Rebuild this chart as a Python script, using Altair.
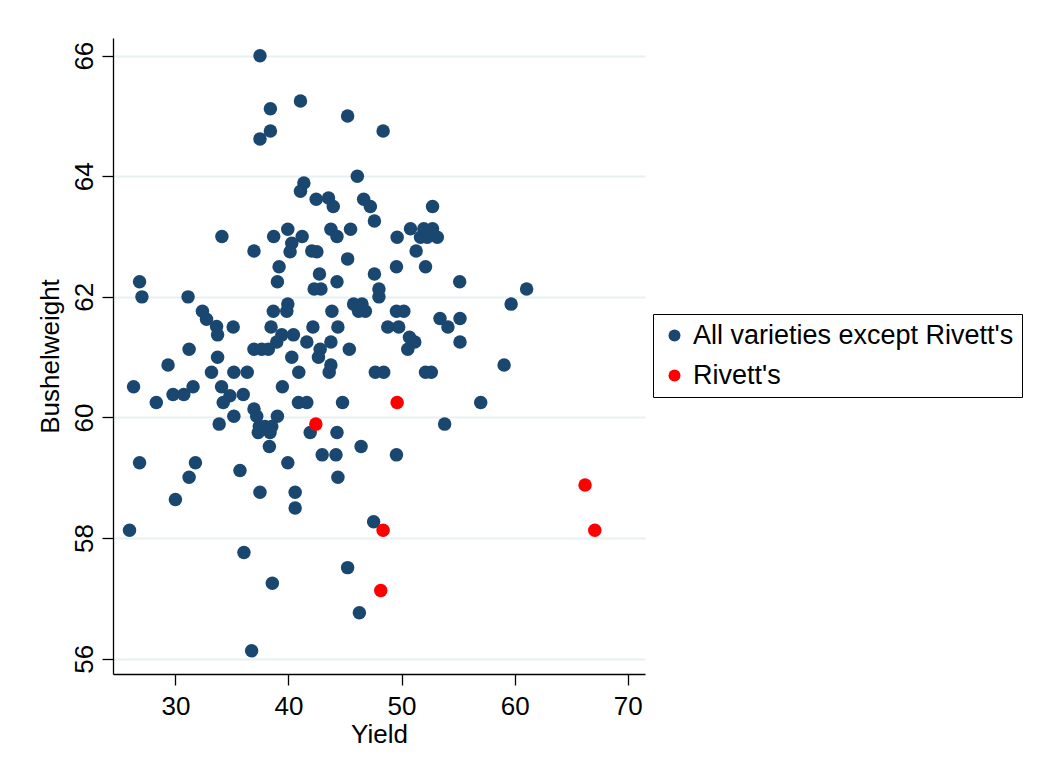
import altair as alt
import pandas as pd

# Yield (x) and Bushelweight (y) for all varieties except Rivett's
blue_x = [37.48, 41.06, 38.40, 45.23, 38.40, 37.48, 48.37, 46.09, 41.36, 41.06,
          42.45, 43.54, 43.96, 46.65, 47.24, 47.60, 34.11, 38.69, 39.94, 41.21,
          43.75, 44.29, 45.49, 40.29, 36.95, 42.06, 52.74, 50.79, 49.61, 51.97,
          52.74, 51.68, 52.27, 53.16, 51.29, 40.14, 42.51, 45.23, 39.17, 42.74,
          47.60, 26.83, 39.02, 44.29, 42.27, 42.87, 48.00, 27.04, 31.12, 48.00,
          45.76, 46.50, 46.20, 46.80, 32.39, 38.66, 39.94, 39.85, 43.84, 32.75,
          33.64, 33.73, 35.11, 38.46, 42.16, 44.37, 39.41, 40.44, 38.96, 41.62,
          43.75, 31.21, 36.95, 37.63, 38.22, 42.80, 45.38, 42.65, 33.73, 40.29,
          29.35, 43.75, 33.19, 35.17, 36.35, 40.91, 43.60, 47.68, 26.30, 31.56,
          34.08, 39.46, 29.79, 30.74, 34.82, 36.00, 28.31, 34.23, 40.88, 41.62,
          44.78, 36.95, 35.17, 37.19, 39.02, 33.87, 37.42, 37.92, 38.52, 37.33,
          38.37, 38.31, 41.92, 44.29, 46.42, 42.98, 44.20, 26.83, 31.77, 39.94,
          49.55, 52.12, 55.14, 61.06, 59.69, 49.55, 50.20, 53.40, 55.17, 48.78,
          49.75, 54.10, 50.70, 51.17, 50.55, 55.17, 59.07, 48.42, 52.12, 52.63,
          57.00, 53.81, 49.55, 35.71, 31.21, 44.37, 37.48, 40.59, 30.00, 40.59,
          47.53, 25.94, 36.06, 45.23, 38.57, 46.27, 36.74]
blue_y = [66.00, 65.25, 65.12, 65.00, 64.75, 64.62, 64.75, 64.00, 63.89, 63.75,
          63.62, 63.64, 63.50, 63.62, 63.50, 63.26, 63.00, 63.00, 63.12, 63.00,
          63.12, 63.00, 63.12, 62.89, 62.76, 62.76, 63.50, 63.13, 62.99, 63.13,
          63.13, 62.99, 62.99, 62.99, 62.76, 62.75, 62.75, 62.63, 62.50, 62.38,
          62.38, 62.25, 62.25, 62.25, 62.13, 62.13, 62.13, 62.00, 62.00, 62.00,
          61.88, 61.88, 61.76, 61.76, 61.76, 61.76, 61.88, 61.76, 61.76, 61.63,
          61.51, 61.37, 61.50, 61.50, 61.50, 61.50, 61.37, 61.37, 61.25, 61.25,
          61.25, 61.13, 61.13, 61.13, 61.13, 61.13, 61.13, 61.00, 61.00, 61.00,
          60.87, 60.87, 60.75, 60.75, 60.75, 60.75, 60.75, 60.75, 60.51, 60.51,
          60.51, 60.51, 60.38, 60.38, 60.36, 60.38, 60.25, 60.25, 60.25, 60.25,
          60.25, 60.14, 60.02, 60.02, 60.02, 59.89, 59.85, 59.85, 59.85, 59.75,
          59.75, 59.52, 59.75, 59.75, 59.52, 59.38, 59.38, 59.25, 59.25, 59.25,
          62.50, 62.50, 62.25, 62.13, 61.88, 61.76, 61.76, 61.64, 61.64, 61.50,
          61.50, 61.50, 61.33, 61.25, 61.13, 61.25, 60.87, 60.75, 60.75, 60.75,
          60.25, 59.89, 59.38, 59.12, 59.01, 59.01, 58.76, 58.76, 58.64, 58.50,
          58.27, 58.13, 57.76, 57.51, 57.25, 56.76, 56.13]

# Rivett's
red_x = [42.42, 49.61, 48.37, 48.16, 66.23, 67.09]
red_y = [59.89, 60.25, 58.13, 57.13, 58.88, 58.13]

series_names = ["All varieties except Rivett's", "Rivett's"]
series_colors = ["#1a476f", "#ff0000"]
x_ticks = [30, 40, 50, 60, 70]
y_ticks = [56, 58, 60, 62, 64, 66]

df = pd.concat([
    pd.DataFrame({"Yield": blue_x, "Bushelweight": blue_y, "series": series_names[0]}),
    pd.DataFrame({"Yield": red_x, "Bushelweight": red_y, "series": series_names[1]}),
], ignore_index=True)
df["order"] = range(len(df))

FONT = "Liberation Sans"

chart = alt.Chart(df).mark_circle(size=182, opacity=1).encode(
    x=alt.X("Yield:Q",
            scale=alt.Scale(domain=[24.48, 71.53], nice=False, zero=False),
            axis=alt.Axis(values=x_ticks, title="Yield", grid=False,
                          labelPadding=8, titlePadding=2)),
    y=alt.Y("Bushelweight:Q",
            scale=alt.Scale(domain=[55.746, 66.293], nice=False, zero=False),
            axis=alt.Axis(values=y_ticks, title="Bushelweight", grid=True,
                          gridColor="#e8f0f2", gridWidth=2,
                          labelAngle=270, labelAlign="center",
                          labelBaseline="alphabetic", labelPadding=10,
                          titlePadding=8)),
    color=alt.Color("series:N",
                    scale=alt.Scale(domain=series_names, range=series_colors),
                    legend=alt.Legend(title=None, orient="none",
                                      legendX=540, legendY=276,
                                      symbolType="circle", symbolSize=144,
                                      symbolStrokeWidth=0, symbolOpacity=1,
                                      labelFontSize=27, labelFont=FONT,
                                      labelColor="black", labelOffset=5,
                                      labelLimit=1000,
                                      rowPadding=12, padding=8,
                                      strokeColor="black", fillColor="white",
                                      cornerRadius=0)),
    order=alt.Order("order:Q"),
).properties(
    width=532, height=636,
    autosize=alt.AutoSizeParams(type="none"),
    padding={"left": 105, "top": 30, "right": 400, "bottom": 90},
    background="white",
).configure_view(
    stroke=None
).configure_axis(
    domainColor="black", domainWidth=1.3,
    tickColor="black", tickWidth=1.3, tickSize=11,
    labelFont=FONT, labelFontSize=26, labelColor="black",
    titleFont=FONT, titleFontSize=26, titleColor="black",
    titleFontWeight="normal",
)

chart.save("out.html", embed_options={"renderer": "svg", "actions": False})
